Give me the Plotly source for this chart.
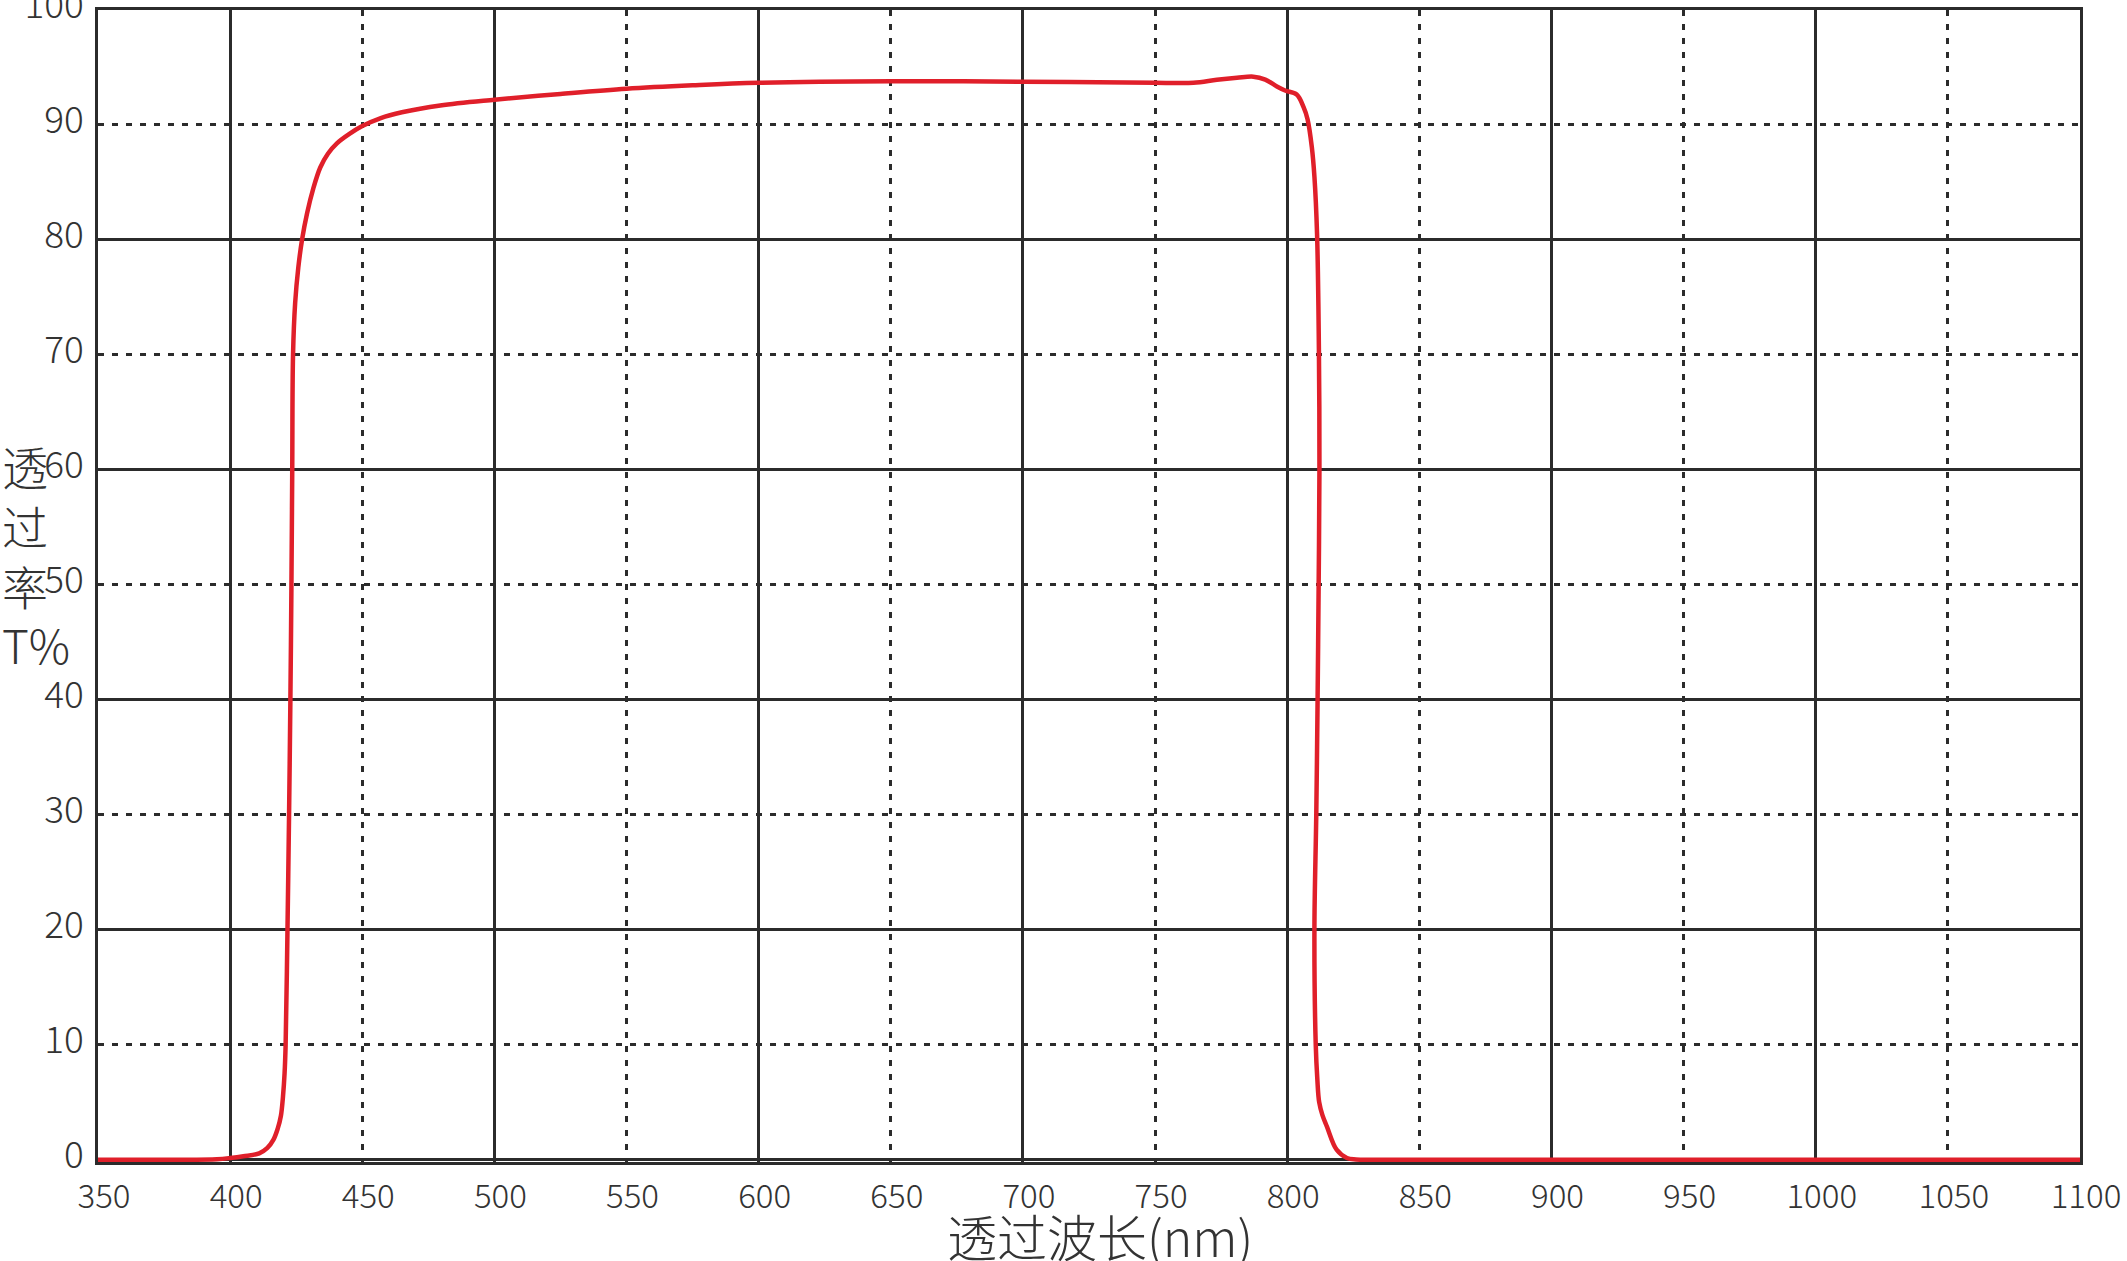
import plotly.graph_objects as go

# Transmission curve
wavelength = [350, 380, 395, 400, 405, 411, 414, 416.4, 418, 419.2, 420.0, 420.6, 421.0,
              421.7, 422.3, 422.8, 423.2, 423.5, 423.8, 424.6, 425.8, 427.2, 429.1, 431.5,
              434.1, 437, 440.4, 445, 450, 457, 465, 479.5, 500, 525, 550, 575, 600, 650,
              700, 750, 764.5, 773.4, 781, 787.2, 791.7, 796.1, 799.2, 803.6, 806.2, 807.7,
              809.3, 810.3, 811.3, 812.0, 812.2, 811.9, 811.5, 811.0, 810.3, 810.8, 811.4,
              812.1, 813.3, 815.0, 818.7, 822.6, 826, 835, 900, 1000, 1100]
transmittance = [0, 0, 0.05, 0.15, 0.3, 0.55, 1.0, 1.75, 2.7, 3.8, 5.5, 7.5, 10,
                 20, 30, 40, 50, 60, 70, 74.5, 77.6, 80, 82.3, 84.5,
                 86.3, 87.5, 88.4, 89.2, 89.9, 90.6, 91.1, 91.7, 92.2, 92.7, 93.15, 93.45, 93.67, 93.81,
                 93.76, 93.68, 93.67, 93.93, 94.1, 94.2, 93.95, 93.35, 93.0, 92.65, 91.55, 90.5,
                 88.1, 85.5, 80.5, 70.4, 60, 50, 40, 30, 20, 10, 7,
                 5.0, 3.9, 2.9, 0.87, 0.15, 0.02, 0, 0, 0, 0]

xTicks = list(range(350, 1101, 50))
yTicks = list(range(0, 101, 10))

xTitle = '透过波长(nm)'
yTitle = '透<br>过<br>率<br>T%'

FONT = 'Noto Sans CJK SC Light, Noto Sans CJK SC'
INK = '#2b2b2b'
RED = '#e01f2a'
DOTS = '6px,8px'


def createChart():
    fig = go.Figure()
    # invisible copy on the overlay axes so that their solid grid is drawn
    fig.add_trace(go.Scatter(x=wavelength, y=transmittance, xaxis='x2', yaxis='y2',
                             mode='lines', line=dict(width=0), opacity=0,
                             hoverinfo='skip', showlegend=False))
    fig.add_trace(go.Scatter(x=wavelength, y=transmittance, mode='lines',
                             line=dict(color=RED, width=4.5, shape='spline', smoothing=1.0),
                             showlegend=False))

    tickFont = dict(family=FONT, size=33, color='#333333', weight=300)
    # a hair below zero so the red baseline is not cut in half by the frame
    yRange = [-0.2, 100]
    fig.update_layout(
        width=2127, height=1261,
        margin=dict(l=98, r=47, t=10, b=99, autoexpand=False),
        paper_bgcolor='white', plot_bgcolor='white',
        xaxis=dict(range=[350, 1100], tickvals=xTicks, ticks='', showgrid=True,
                   gridcolor=INK, gridwidth=2.5, griddash=DOTS, zeroline=False,
                   showline=True, linecolor=INK, linewidth=2.5, mirror=True,
                   layer='below traces', tickfont=tickFont, ticklabelstandoff=4,
                   ticklabelshift=6, ticklabeloverflow='allow', automargin=False),
        yaxis=dict(range=yRange, tickvals=yTicks, ticks='', showgrid=True,
                   gridcolor=INK, gridwidth=2.5, griddash=DOTS, zeroline=False,
                   showline=True, linecolor=INK, linewidth=2.5, mirror=True,
                   layer='below traces', tickfont=dict(tickFont, size=37),
                   ticklabelstandoff=4, ticklabelshift=-5, ticklabeloverflow='allow',
                   automargin=False),
        xaxis2=dict(range=[350, 1100], overlaying='x', anchor='y2', dtick=100, tick0=0,
                    showticklabels=False, ticks='', showgrid=True, gridcolor=INK,
                    gridwidth=2.5, zeroline=False, showline=False, automargin=False),
        yaxis2=dict(range=yRange, overlaying='y', anchor='x2', dtick=20, tick0=0,
                    showticklabels=False, ticks='', showgrid=True, gridcolor=INK,
                    gridwidth=2.5, zeroline=False, showline=False, automargin=False),
        annotations=[
            dict(text=xTitle, xref='paper', yref='paper', x=0.5, y=-0.063, xshift=11,
                 xanchor='center', yanchor='middle', showarrow=False,
                 font=dict(family=FONT, size=50, color='#333333', weight=300)),
            dict(text=yTitle, xref='paper', yref='paper', x=-0.0494, y=0.527,
                 xanchor='left', yanchor='middle', align='left', showarrow=False,
                 font=dict(family=FONT, size=46, color='#333333', weight=300)),
        ],
    )
    return fig


def main():
    fig = createChart()
    # drop the default page margin so the figure sits at the window's corner
    fig.write_html('out.html', config={'displayModeBar': False},
                   post_script="document.body.style.margin='0';")


if __name__ == '__main__':
    main()
